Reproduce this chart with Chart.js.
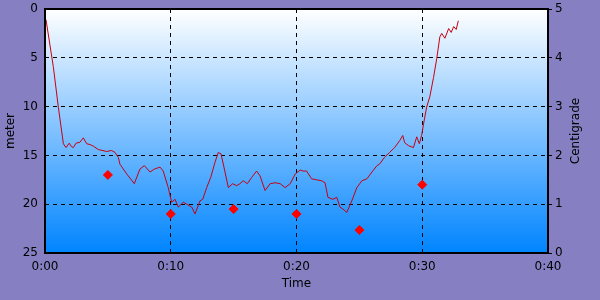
<!DOCTYPE html>
<html>
<head>
<meta charset="utf-8">
<script src="https://cdn.jsdelivr.net/npm/chart.js@4/dist/chart.umd.min.js"></script>
<style>
html,body{margin:0;padding:0;background:#8680c2;}
#wrap{width:600px;height:300px;}
</style>
</head>
<body>
<div id="wrap"><canvas id="c" width="600" height="300"></canvas></div>
<script>
// Depth profile (time in minutes, depth in meters)
const depthTimes = [
  0.08,0.66,1.06,1.46,1.67,1.93,2.1,2.25,2.47,2.78,
  3.05,3.31,3.6,3.84,4.24,4.9,5.3,5.57,5.83,5.96,
  6.5,7.1,7.55,7.9,8.35,8.7,9.15,9.4,9.8,10.07,
  10.34,10.6,11.0,11.27,11.67,11.93,12.33,12.54,12.86,13.18,
  13.52,13.78,14.0,14.23,14.58,14.92,15.24,15.5,15.77,16.09,
  16.44,16.83,17.1,17.5,17.9,18.3,18.7,19.1,19.5,19.9,
  20.3,20.5,20.8,21.2,21.6,22.0,22.27,22.5,22.9,23.2,
  23.46,23.7,24.0,24.4,24.8,25.2,25.6,26.0,26.4,26.6,
  27.0,27.4,27.8,28.2,28.45,28.6,28.9,29.3,29.56,29.77,
  29.95,30.1,30.35,30.6,30.9,31.15,31.4,31.55,31.8,32.1,
  32.3,32.5,32.7,32.87
];
const depths = [
  1.1,5.9,10.05,13.8,14.2,13.75,14.1,14.2,13.75,13.65,
  13.2,13.8,13.9,14.05,14.4,14.6,14.5,14.7,15.2,15.9,
  16.9,17.9,16.4,16.05,16.7,16.4,16.2,16.6,18.3,19.8,
  19.5,20.3,19.8,20.0,20.3,21.0,19.65,19.5,18.3,17.25,
  15.7,14.7,14.85,16.2,18.3,17.9,18.1,17.9,17.6,17.9,
  17.25,16.6,17.1,18.6,17.9,17.8,17.9,18.3,17.9,16.9,
  16.5,16.6,16.6,17.4,17.5,17.6,17.8,19.3,19.5,19.3,
  20.3,20.5,20.85,19.65,18.3,17.6,17.4,16.7,16.05,15.9,
  15.2,14.7,14.2,13.5,12.96,13.7,14.0,14.2,13.1,13.8,
  12.96,11.8,10.05,9.0,7.0,5.1,2.85,2.5,3.0,2.0,
  2.4,1.8,2.1,1.2
];
// Temperature samples (time in minutes, degrees C)
const tempTimes = [5, 10, 15, 20, 25, 30];
const temps = [1.6, 0.8, 0.9, 0.8, 0.47, 1.4];

const FONT = {family: "'DejaVu Sans', sans-serif", size: 12};

const bgPlugin = {
  id: 'bg',
  beforeDraw(chart) {
    const {ctx, chartArea: a} = chart;
    ctx.save();
    ctx.fillStyle = '#8680c2';
    ctx.fillRect(0, 0, chart.width, chart.height);
    const g = ctx.createLinearGradient(0, a.top, 0, a.bottom);
    g.addColorStop(0, '#ffffff');
    g.addColorStop(1, '#0084ff');
    ctx.fillStyle = g;
    ctx.fillRect(a.left, a.top, a.right - a.left, a.bottom - a.top);
    ctx.restore();
  },
  afterDraw(chart) {
    const {ctx, chartArea: a} = chart;
    ctx.save();
    ctx.strokeStyle = '#000';
    ctx.lineWidth = 2;
    ctx.strokeRect(a.left, a.top, a.right - a.left, a.bottom - a.top);
    ctx.translate(576, (a.top + a.bottom) / 2);
    ctx.rotate(-Math.PI / 2);
    ctx.fillStyle = '#000';
    ctx.font = "12px 'DejaVu Sans', sans-serif";
    ctx.textAlign = 'center';
    ctx.textBaseline = 'middle';
    ctx.fillText('Centigrade', 0, 0);
    ctx.restore();
  }
};

function noPad(s) {
  s.paddingTop = 0; s.paddingBottom = 0; s.paddingLeft = 0; s.paddingRight = 0;
}

new Chart(document.getElementById('c'), {
  type: 'line',
  data: {
    datasets: [
      {
        label: 'Depth',
        data: depthTimes.map((t, i) => ({x: t, y: depths[i]})),
        borderColor: '#c80010',
        borderWidth: 1,
        pointRadius: 0,
        tension: 0,
        yAxisID: 'y'
      },
      {
        label: 'Temperature',
        data: tempTimes.map((t, i) => ({x: t, y: temps[i]})),
        showLine: false,
        pointStyle: 'rectRot',
        pointRadius: 4.5,
        pointBackgroundColor: '#ff0000',
        pointBorderColor: '#ff0000',
        borderColor: '#ff0000',
        yAxisID: 'y1'
      }
    ]
  },
  options: {
    responsive: false,
    animation: false,
    layout: {padding: {top: 9, left: 0, right: 0, bottom: 0}},
    plugins: {legend: {display: false}, tooltip: {enabled: false}},
    scales: {
      x: {
        type: 'linear',
        min: 0, max: 40,
        afterFit(s) { s.height = 47; noPad(s); },
        ticks: {stepSize: 10, color: '#000', font: FONT, padding: 7,
          callback: v => '0:' + String(v).padStart(2, '0')},
        grid: {color: '#000', lineWidth: 1, drawTicks: false},
        border: {display: false, dash: [4, 4]},
        title: {display: true, text: 'Time', color: '#000', font: FONT, padding: {top: 4, bottom: 9}}
      },
      y: {
        position: 'left',
        reverse: true,
        min: 0, max: 25,
        afterFit(s) { s.width = 45; noPad(s); },
        ticks: {stepSize: 5, color: '#000', font: FONT, padding: 7},
        grid: {color: '#000', lineWidth: 1, drawTicks: false},
        border: {display: false, dash: [4, 4]},
        title: {display: true, text: 'meter', color: '#000', font: FONT, padding: {top: 4, bottom: 4}}
      },
      y1: {
        position: 'right',
        min: 0, max: 5,
        afterFit(s) { s.width = 52; noPad(s); },
        ticks: {stepSize: 1, color: '#000', font: FONT, padding: 3},
        grid: {drawOnChartArea: false, color: '#000', tickLength: 4},
        border: {display: false}
      }
    }
  },
  plugins: [bgPlugin]
});
</script>
</body>
</html>
